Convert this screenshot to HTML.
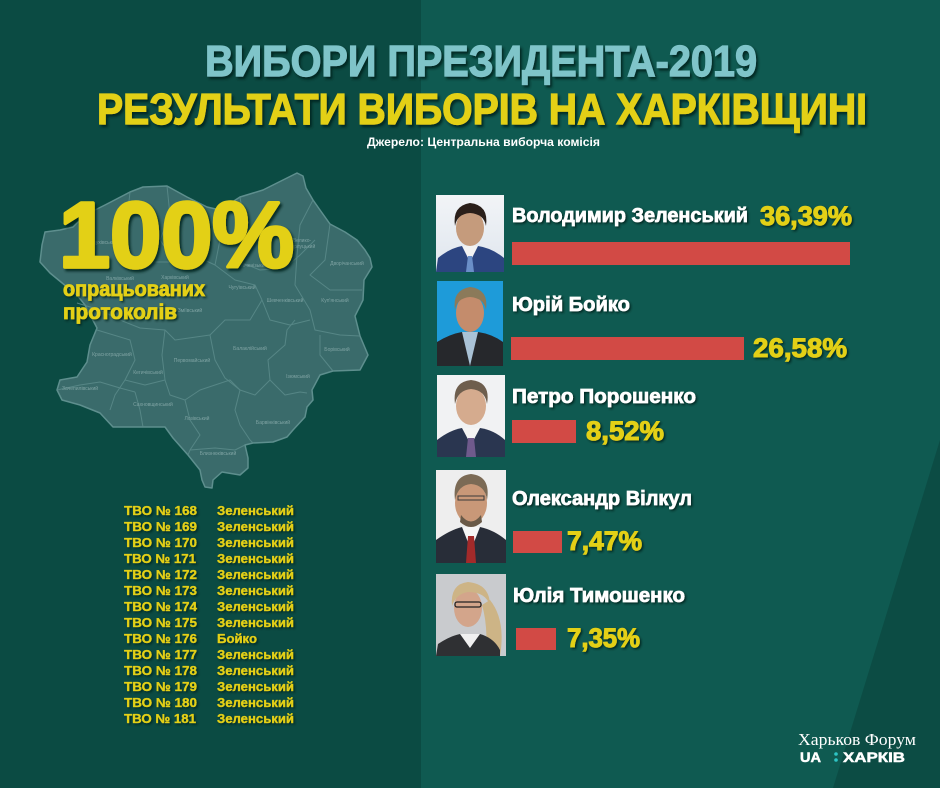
<!DOCTYPE html>
<html><head><meta charset="utf-8"><style>
html,body{margin:0;padding:0;background:#0f5a51;}
svg{display:block;}
</style></head><body>
<svg width="940" height="788" viewBox="0 0 940 788" xmlns="http://www.w3.org/2000/svg">
<defs>
<filter id="sh" x="-10%" y="-30%" width="130%" height="170%">
<feDropShadow dx="2" dy="2.5" stdDeviation="1.2" flood-color="#03241f" flood-opacity="0.9"/>
</filter>
<filter id="sh2" x="-10%" y="-30%" width="130%" height="170%">
<feDropShadow dx="1.5" dy="1.5" stdDeviation="1" flood-color="#03241f" flood-opacity="0.9"/>
</filter>
<linearGradient id="bg1" x1="0" y1="0" x2="0" y2="1"><stop offset="0" stop-color="#f2f4f7"/><stop offset="1" stop-color="#dfe6ee"/></linearGradient>
</defs>
<!-- backgrounds -->
<rect x="0" y="0" width="940" height="788" fill="#0f5a51"/>
<rect x="0" y="0" width="421" height="788" fill="#0b4b43"/>
<polygon points="940,440 940,788 833,788" fill="#0c4c44"/>

<!-- map -->
<g>
<polygon fill="#3a6b6b" stroke="#5e8f8e" stroke-width="1.5" stroke-linejoin="round" points="297,173 303,176 306,188 313,200 320,210 330,224 345,232 357,240 365,250 370,258 372,267 364,280 363,300 355,316 360,336 368,355 360,370 333,371 320,375 312,390 313,400 307,407 305,417 293,430 287,437 273,442 253,443 245,445 248,458 248,468 240,475 222,472 213,480 212,488 205,487 202,480 200,470 188,455 173,438 165,427 143,427 113,427 100,413 80,405 62,400 57,390 60,380 77,377 87,362 90,345 97,328 85,305 77,295 67,287 50,273 40,262 42,245 45,232 60,230 73,227 85,215 105,205 130,192 143,187 167,186 187,197 207,207 220,210 240,197 263,190 283,180"/>
<g fill="none" stroke="#5a8a89" stroke-width="1" stroke-linejoin="round" opacity="0.9">
<polyline points="167,186 170,215 160,240 175,262"/>
<polyline points="130,192 127,220 120,245 140,262 175,262 200,258 215,265"/>
<polyline points="215,210 220,240 215,265 235,280 255,285 262,300"/>
<polyline points="240,197 245,230 240,262 260,270 285,268 300,255 315,240"/>
<polyline points="313,200 300,225 297,255 295,285 310,310 315,330 340,335 360,336"/>
<polyline points="330,224 325,260 310,275 330,290 362,290"/>
<polyline points="77,303 100,310 120,320 140,328 165,330 175,340 210,335 225,320 250,320 262,300"/>
<polyline points="262,300 270,320 290,325 310,320"/>
<polyline points="97,330 130,340 135,360 125,380 115,395 110,410"/>
<polyline points="165,330 162,355 165,380 170,395 185,400 200,390 215,385 230,380 240,390"/>
<polyline points="210,335 215,360 225,378 240,390 255,395 270,380 268,360 285,345 287,330 295,320"/>
<polyline points="57,390 80,385 100,382 120,388 135,392"/>
<polyline points="125,380 145,385 165,380"/>
<polyline points="135,392 140,410 143,427"/>
<polyline points="185,400 190,420 200,435 190,450 188,455"/>
<polyline points="240,390 235,410 240,425 250,440 253,443"/>
<polyline points="270,380 285,395 300,392 307,393"/>
<polyline points="190,450 215,448 235,450 245,445"/>
<polyline points="320,335 320,355 333,371"/>
</g>
<g font-family="Liberation Sans, sans-serif" font-size="5" fill="#7fa3a3" text-anchor="middle">
<text x="100" y="244">Богодухівський</text>
<text x="120" y="280">Валківський</text>
<text x="175" y="279">Харківський</text>
<text x="242" y="289">Чугуївський</text>
<text x="253" y="267">Печенізький</text>
<text x="302" y="242">Велико-</text><text x="302" y="248">бурлуцький</text>
<text x="347" y="265">Дворічанський</text>
<text x="285" y="302">Шевченківський</text>
<text x="335" y="302">Куп'янський</text>
<text x="190" y="312">Зміївський</text>
<text x="250" y="350">Балаклійський</text>
<text x="337" y="351">Борівський</text>
<text x="112" y="356">Красноградський</text>
<text x="192" y="362">Первомайський</text>
<text x="148" y="374">Кегичівський</text>
<text x="298" y="378">Ізюмський</text>
<text x="80" y="390">Зачепилівський</text>
<text x="153" y="406">Сахновщинський</text>
<text x="197" y="420">Лозівський</text>
<text x="273" y="424">Барвінківський</text>
<text x="218" y="455">Близнюківський</text>
</g>
</g>

<!-- titles -->
<g font-family="Liberation Sans, sans-serif" font-weight="bold">
<text x="205" y="76" font-size="44" fill="#7fc4c9" stroke="#7fc4c9" stroke-width="1.2" textLength="552" lengthAdjust="spacingAndGlyphs" filter="url(#sh)">ВИБОРИ ПРЕЗИДЕНТА-2019</text>
<text x="97" y="124" font-size="44" fill="#e3d015" stroke="#e3d015" stroke-width="1.2" textLength="770" lengthAdjust="spacingAndGlyphs" filter="url(#sh)">РЕЗУЛЬТАТИ ВИБОРІВ НА ХАРКІВЩИНІ</text>
<text x="367" y="146" font-size="12" fill="#ffffff" textLength="233" lengthAdjust="spacingAndGlyphs">Джерело: Центральна виборча комісія</text>

<text x="59" y="267" font-size="93" fill="#e3d015" stroke="#e3d015" stroke-width="3.5" stroke-linejoin="round" textLength="235" lengthAdjust="spacingAndGlyphs" filter="url(#sh)">100%</text>
<text x="63" y="296" font-size="21" fill="#e3d015" stroke="#e3d015" stroke-width="0.8" textLength="142" lengthAdjust="spacingAndGlyphs" filter="url(#sh2)">опрацьованих</text>
<text x="63" y="319" font-size="21" fill="#e3d015" stroke="#e3d015" stroke-width="0.8" textLength="114" lengthAdjust="spacingAndGlyphs" filter="url(#sh2)">протоколів</text>
</g>

<!-- TVO list -->
<g font-family="Liberation Sans, sans-serif" font-weight="bold" font-size="13" fill="#e3d015" stroke="#e3d015" stroke-width="0.3" filter="url(#sh2)">
<text x="124" y="515" textLength="73" lengthAdjust="spacingAndGlyphs">ТВО № 168</text><text x="217" y="515" textLength="77" lengthAdjust="spacingAndGlyphs">Зеленський</text>
<text x="124" y="531" textLength="73" lengthAdjust="spacingAndGlyphs">ТВО № 169</text><text x="217" y="531" textLength="77" lengthAdjust="spacingAndGlyphs">Зеленський</text>
<text x="124" y="547" textLength="73" lengthAdjust="spacingAndGlyphs">ТВО № 170</text><text x="217" y="547" textLength="77" lengthAdjust="spacingAndGlyphs">Зеленський</text>
<text x="124" y="563" textLength="72" lengthAdjust="spacingAndGlyphs">ТВО № 171</text><text x="217" y="563" textLength="77" lengthAdjust="spacingAndGlyphs">Зеленський</text>
<text x="124" y="579" textLength="73" lengthAdjust="spacingAndGlyphs">ТВО № 172</text><text x="217" y="579" textLength="77" lengthAdjust="spacingAndGlyphs">Зеленський</text>
<text x="124" y="595" textLength="73" lengthAdjust="spacingAndGlyphs">ТВО № 173</text><text x="217" y="595" textLength="77" lengthAdjust="spacingAndGlyphs">Зеленський</text>
<text x="124" y="611" textLength="73" lengthAdjust="spacingAndGlyphs">ТВО № 174</text><text x="217" y="611" textLength="77" lengthAdjust="spacingAndGlyphs">Зеленський</text>
<text x="124" y="627" textLength="73" lengthAdjust="spacingAndGlyphs">ТВО № 175</text><text x="217" y="627" textLength="77" lengthAdjust="spacingAndGlyphs">Зеленський</text>
<text x="124" y="643" textLength="73" lengthAdjust="spacingAndGlyphs">ТВО № 176</text><text x="217" y="643" textLength="40" lengthAdjust="spacingAndGlyphs">Бойко</text>
<text x="124" y="659" textLength="73" lengthAdjust="spacingAndGlyphs">ТВО № 177</text><text x="217" y="659" textLength="77" lengthAdjust="spacingAndGlyphs">Зеленський</text>
<text x="124" y="675" textLength="73" lengthAdjust="spacingAndGlyphs">ТВО № 178</text><text x="217" y="675" textLength="77" lengthAdjust="spacingAndGlyphs">Зеленський</text>
<text x="124" y="691" textLength="73" lengthAdjust="spacingAndGlyphs">ТВО № 179</text><text x="217" y="691" textLength="77" lengthAdjust="spacingAndGlyphs">Зеленський</text>
<text x="124" y="707" textLength="73" lengthAdjust="spacingAndGlyphs">ТВО № 180</text><text x="217" y="707" textLength="77" lengthAdjust="spacingAndGlyphs">Зеленський</text>
<text x="124" y="723" textLength="72" lengthAdjust="spacingAndGlyphs">ТВО № 181</text><text x="217" y="723" textLength="77" lengthAdjust="spacingAndGlyphs">Зеленський</text>
</g>

<!-- photos -->
<g>
<rect x="436" y="195" width="68" height="77" fill="url(#bg1)"/>
<clipPath id="c1"><rect x="436" y="195" width="68" height="77"/></clipPath>
<g clip-path="url(#c1)">
<path d="M436,272 L438,258 Q450,248 462,246 L478,246 Q492,248 504,258 L504,272 Z" fill="#2c4580"/>
<path d="M462,246 L470,262 L478,246 Z" fill="#f2f2f2"/>
<path d="M468,256 L472,256 L474,272 L466,272 Z" fill="#6a8fc8"/>
<ellipse cx="470" cy="228" rx="14" ry="18" fill="#c59b7c"/>
<path d="M455,226 Q452,206 470,203 Q489,205 486,226 Q484,214 470,213 Q457,214 455,226 Z" fill="#2a1f1a"/>
</g>
</g>
<g>
<rect x="437" y="281" width="66" height="85" fill="#1e9bd9"/>
<clipPath id="c2"><rect x="437" y="281" width="66" height="85"/></clipPath>
<g clip-path="url(#c2)">
<path d="M437,366 L437,342 Q450,334 462,332 L478,332 Q492,334 503,342 L503,366 Z" fill="#26282c"/>
<path d="M462,332 L470,366 L478,332 Z" fill="#a9c2d6"/>
<ellipse cx="470" cy="313" rx="14" ry="19" fill="#c48c6c"/>
<path d="M455,310 Q452,290 470,287 Q489,289 486,310 Q484,298 470,297 Q457,298 455,310 Z" fill="#8b7a5a"/>
</g>
</g>
<g>
<rect x="437" y="375" width="68" height="82" fill="#f1f2f3"/>
<clipPath id="c3"><rect x="437" y="375" width="68" height="82"/></clipPath>
<g clip-path="url(#c3)">
<path d="M437,457 L437,440 Q450,430 462,428 L480,428 Q494,430 505,440 L505,457 Z" fill="#2a3650"/>
<path d="M462,428 L471,445 L480,428 Z" fill="#f4f4f4"/>
<path d="M468,438 L474,438 L476,457 L466,457 Z" fill="#6f5a8c"/>
<ellipse cx="471" cy="406" rx="15" ry="19" fill="#d5ab8e"/>
<path d="M455,404 Q452,382 471,380 Q491,382 487,404 Q485,390 471,389 Q458,390 455,404 Z" fill="#6e5e4d"/>
</g>
</g>
<g>
<rect x="436" y="470" width="70" height="93" fill="#eeeeee"/>
<clipPath id="c4"><rect x="436" y="470" width="70" height="93"/></clipPath>
<g clip-path="url(#c4)">
<path d="M436,563 L436,540 Q450,530 462,527 L480,527 Q494,530 506,540 L506,563 Z" fill="#282d38"/>
<path d="M462,527 L471,550 L480,527 Z" fill="#f6f6f6"/>
<path d="M468,536 L474,536 L476,563 L466,563 Z" fill="#a32a2a"/>
<ellipse cx="471" cy="503" rx="16" ry="21" fill="#c99878"/>
<path d="M461,515 Q471,528 481,515 L482,522 Q471,532 460,522 Z" fill="#6a5a48"/>
<path d="M455,500 Q452,476 471,474 Q491,476 487,500 Q485,485 471,484 Q458,485 455,500 Z" fill="#7b6a55"/>
<rect x="458" y="496" width="26" height="4" fill="none" stroke="#3a3a3a" stroke-width="1"/>
</g>
</g>
<g>
<rect x="436" y="574" width="70" height="82" fill="#c9cbce"/>
<clipPath id="c5"><rect x="436" y="574" width="70" height="82"/></clipPath>
<g clip-path="url(#c5)">
<path d="M490,600 Q506,620 500,656 L486,656 Q488,625 482,605 Z" fill="#cdb486"/>
<path d="M436,656 L438,644 Q450,636 460,634 L480,634 Q494,638 500,650 L500,656 Z" fill="#2f3033"/>
<path d="M460,634 L470,648 L480,634 Z" fill="#f0f0f0"/>
<ellipse cx="468" cy="608" rx="14" ry="19" fill="#d3a58b"/>
<path d="M452,606 Q450,584 468,582 Q490,584 490,606 Q486,592 468,592 Q456,594 452,606 Z" fill="#cdb486"/>
<rect x="455" y="602" width="26" height="5" rx="2" fill="none" stroke="#222" stroke-width="1.3"/>
</g>
</g>

<!-- bars -->
<g fill="#d24a45">
<rect x="512" y="242" width="338" height="23"/>
<rect x="511" y="337" width="233" height="23"/>
<rect x="512" y="420" width="64" height="23"/>
<rect x="513" y="531" width="49" height="22"/>
<rect x="516" y="628" width="40" height="22"/>
</g>

<!-- names -->
<g font-family="Liberation Sans, sans-serif" font-weight="bold" font-size="20" fill="#ffffff" stroke="#ffffff" stroke-width="0.7" filter="url(#sh2)">
<text x="512" y="222" textLength="236" lengthAdjust="spacingAndGlyphs">Володимир Зеленський</text>
<text x="512" y="311" textLength="118" lengthAdjust="spacingAndGlyphs">Юрій Бойко</text>
<text x="512" y="403" textLength="184" lengthAdjust="spacingAndGlyphs">Петро Порошенко</text>
<text x="512" y="505" textLength="180" lengthAdjust="spacingAndGlyphs">Олександр Вілкул</text>
<text x="513" y="602" textLength="172" lengthAdjust="spacingAndGlyphs">Юлія Тимошенко</text>
</g>
<!-- percents -->
<g font-family="Liberation Sans, sans-serif" font-weight="bold" font-size="27" fill="#e3d015" stroke="#e3d015" stroke-width="1" filter="url(#sh2)">
<text x="760" y="225" textLength="92" lengthAdjust="spacingAndGlyphs">36,39%</text>
<text x="753" y="357" textLength="94" lengthAdjust="spacingAndGlyphs">26,58%</text>
<text x="586" y="440" textLength="78" lengthAdjust="spacingAndGlyphs">8,52%</text>
<text x="567" y="550" textLength="75" lengthAdjust="spacingAndGlyphs">7,47%</text>
<text x="567" y="647" textLength="73" lengthAdjust="spacingAndGlyphs">7,35%</text>
</g>

<!-- logo -->
<text x="798" y="745" font-family="Liberation Serif, serif" font-size="17" fill="#ffffff" textLength="118" lengthAdjust="spacingAndGlyphs">Харьков Форум</text>
<text x="800" y="762" font-family="Liberation Sans, sans-serif" font-weight="bold" font-size="14" fill="#ffffff" stroke="#ffffff" stroke-width="0.5" textLength="21" lengthAdjust="spacingAndGlyphs">UA</text>
<circle cx="836" cy="754" r="1.8" fill="#2ec4c4"/>
<circle cx="836" cy="760" r="1.8" fill="#2ec4c4"/>
<text x="843" y="762" font-family="Liberation Sans, sans-serif" font-weight="bold" font-size="14" fill="#ffffff" stroke="#ffffff" stroke-width="0.5" textLength="62" lengthAdjust="spacingAndGlyphs">ХАРКІВ</text>
</svg>
</body></html>
